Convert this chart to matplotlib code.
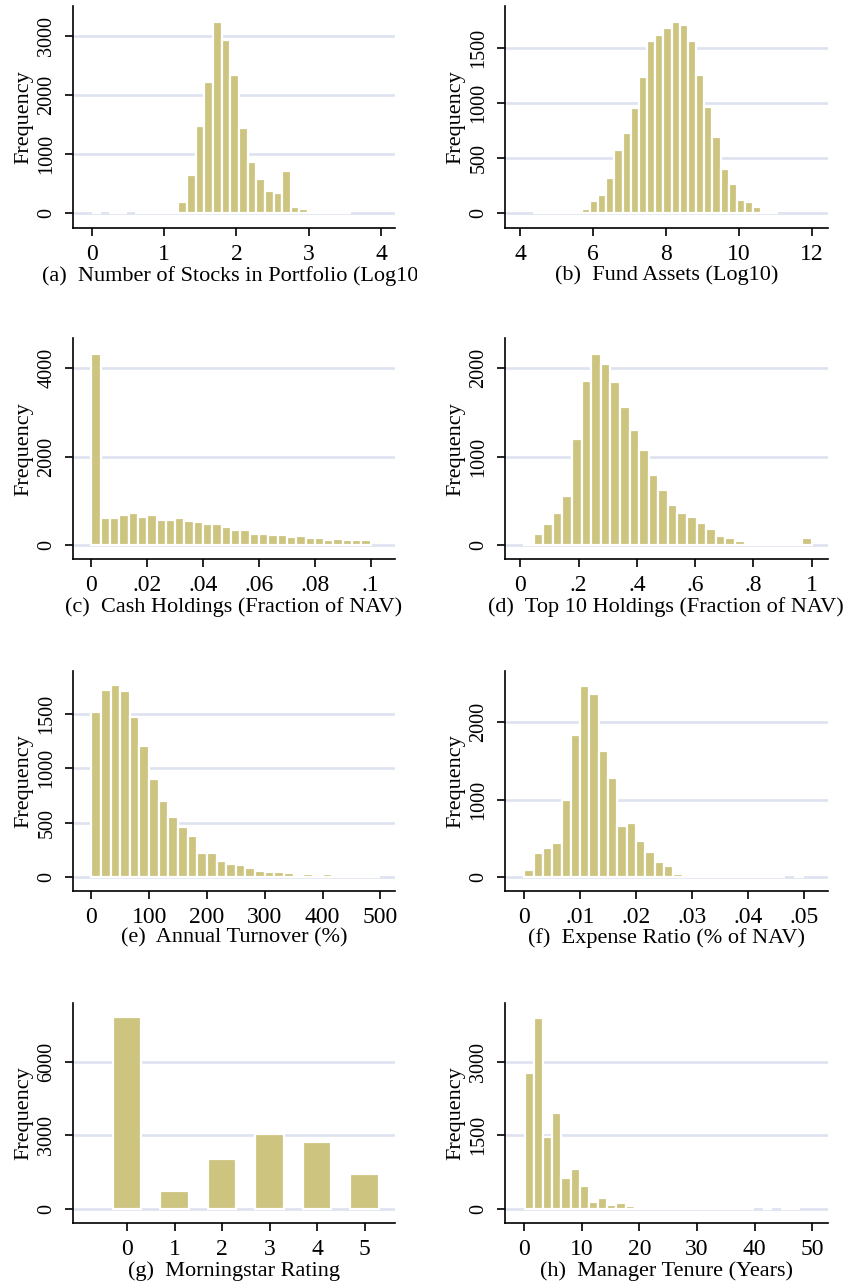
import numpy as np
import matplotlib.pyplot as plt
from matplotlib.transforms import Bbox, TransformedBbox

plt.rcParams['font.family'] = ['Liberation Serif', 'DejaVu Serif']

BAR = '#cdc47f'
GRID = '#dde2f0'

# (a) number of stocks in portfolio, log10 - 30 bins
stocks_range = (0.0, 3.59)
stocks_counts = [3, 0, 2, 2, 0, 3, 4, 6, 8, 25, 175, 644, 1469, 2209, 3232,
                 2932, 2333, 1435, 864, 576, 367, 339, 706, 102, 56, 5, 4, 20, 3, 2]

# (b) fund assets, log10
assets_range = (4.34, 11.07)
assets_counts = [1, 2, 3, 5, 8, 15, 36, 109, 163, 318, 572, 726, 953, 1231, 1557,
                 1618, 1681, 1733, 1705, 1563, 1252, 965, 686, 402, 266, 121, 97, 54, 6, 2]

# (c) cash holdings
cash_range = (0.0, 0.1)
cash_counts = [4317, 619, 604, 672, 717, 634, 679, 566, 566, 604, 536, 521, 483, 468, 408,
               340, 340, 242, 242, 219, 219, 181, 196, 151, 166, 113, 128, 113, 113, 113]

# (d) top 10 holdings
top10_range = (0.013, 1.0)
top10_counts = [26, 121, 234, 358, 558, 1200, 1860, 2162, 2049, 1845, 1562, 1306, 1075, 789, 623,
                457, 358, 313, 245, 181, 106, 75, 42, 23, 23, 6, 4, 5, 23, 75]

# (e) annual turnover
turnover_range = (0.0, 500.0)
turnover_counts = [1522, 1716, 1768, 1709, 1476, 1208, 904, 701, 553, 458, 378, 224, 224, 148, 120,
                   111, 80, 55, 49, 49, 37, 18, 25, 18, 25, 5, 4, 3, 2, 2]

# (f) expense ratio
expense_range = (0.0, 0.0499)
expense_counts = [95, 314, 370, 443, 1002, 1841, 2473, 2370, 1626, 1282, 662, 705, 460, 327, 194,
                  142, 43, 8, 5, 4, 3, 3, 2, 2, 2, 1, 1, 1, 0, 2]

# (g) morningstar rating (discrete)
ratings = [0, 1, 2, 3, 4, 5]
rating_counts = [7830, 724, 2036, 3048, 2733, 1408]

# (h) manager tenure
tenure_range = (0.08, 47.81)
tenure_counts = [2762, 3898, 1469, 1959, 619, 816, 456, 143, 218, 75, 109, 54, 12, 9, 7,
                 5, 4, 3, 3, 2, 2, 2, 1, 1, 1, 0, 1, 0, 1, 1]

W, H = 852, 1287
fig = plt.figure(figsize=(W / 100, H / 100), dpi=100)

cols = [(73, 322), (505, 322.7)]
rows = [(6, 228), (338.3, 559.3), (670.7, 890.7), (1002.7, 1223.3)]


def make_ax(r, c):
    left, width = cols[c]
    top, bottom = rows[r]
    return fig.add_axes([left / W, 1 - bottom / H, width / W, (bottom - top) / H])


def style(ax, xticks, xlabels, yticks, xlim, ylim, title):
    ax.set_xlim(*xlim)
    ax.set_ylim(*ylim)
    ax.spines['top'].set_visible(False)
    ax.spines['right'].set_visible(False)
    for s in ('left', 'bottom'):
        ax.spines[s].set_linewidth(1.2)
    ax.set_axisbelow(True)
    ax.yaxis.grid(True, color=GRID, lw=1.9)
    ax.set_xticks(xticks)
    ax.set_xticklabels(xlabels, fontsize=17)
    ax.set_yticks(yticks)
    ax.set_yticklabels([str(v) for v in yticks], fontsize=14.5, rotation=90, va='center')
    ax.tick_params(axis='x', length=6, width=1.2, pad=5.5)
    ax.tick_params(axis='y', length=6, width=1.2, pad=6)
    ax.set_ylabel('Frequency', fontsize=16)
    ax.yaxis.set_label_coords(-0.123, 0.5)
    ax.set_xlabel(title, fontsize=16)
    ax.xaxis.set_label_coords(0.5, -0.17)
    return ax.xaxis.label


def hist(ax, rng, counts):
    counts = np.array(counts, dtype=float)
    edges = np.linspace(rng[0], rng[1], len(counts) + 1)
    w = edges[1] - edges[0]
    keep = counts > 0
    ax.bar(edges[:-1][keep], counts[keep], width=w, align='edge',
           color=BAR, edgecolor='white', linewidth=1.6)


ax = make_ax(0, 0)
hist(ax, stocks_range, stocks_counts)
lab = style(ax, [0, 1, 2, 3, 4], ['0', '1', '2', '3', '4'], [0, 1000, 2000, 3000],
            (-0.263, 4.194), (-259, 3503), '(a)  Number of Stocks in Portfolio (Log10)')
lab.set_clip_box(TransformedBbox(Bbox([[0, 0], [417 / W, 1]]), fig.transFigure))
lab.set_clip_on(True)

ax = make_ax(0, 1)
hist(ax, assets_range, assets_counts)
style(ax, [4, 6, 8, 10, 12], ['4', '6', '8', '10', '12'], [0, 500, 1000, 1500],
      (3.58, 12.44), (-136, 1878), '(b)  Fund Assets (Log10)')

ax = make_ax(1, 0)
hist(ax, cash_range, cash_counts)
style(ax, [0, .02, .04, .06, .08, .1], ['0', '.02', '.04', '.06', '.08', '.1'], [0, 2000, 4000],
      (-0.00656, 0.1087), (-324, 4680), '(c)  Cash Holdings (Fraction of NAV)')

ax = make_ax(1, 1)
hist(ax, top10_range, top10_counts)
style(ax, [0, .2, .4, .6, .8, 1], ['0', '.2', '.4', '.6', '.8', '1'], [0, 1000, 2000],
      (-0.0526, 1.055), (-162, 2341), '(d)  Top 10 Holdings (Fraction of NAV)')

ax = make_ax(2, 0)
hist(ax, turnover_range, turnover_counts)
style(ax, [0, 100, 200, 300, 400, 500], ['0', '100', '200', '300', '400', '500'],
      [0, 500, 1000, 1500], (-31.7, 525.4), (-126, 1898), '(e)  Annual Turnover (%)')

ax = make_ax(2, 1)
hist(ax, expense_range, expense_counts)
style(ax, [0, .01, .02, .03, .04, .05], ['0', '.01', '.02', '.03', '.04', '.05'], [0, 1000, 2000],
      (-0.00345, 0.0542), (-177, 2669), '(f)  Expense Ratio (% of NAV)')

ax = make_ax(3, 0)
ax.bar(ratings, rating_counts, width=0.6, color=BAR, edgecolor='white', linewidth=1.6)
style(ax, ratings, [str(r) for r in ratings], [0, 3000, 6000],
      (-1.136, 5.637), (-600, 8417), '(g)  Morningstar Rating')

ax = make_ax(3, 1)
hist(ax, tenure_range, tenure_counts)
style(ax, [0, 10, 20, 30, 40, 50], ['0', '10', '20', '30', '40', '50'], [0, 1500, 3000],
      (-3.36, 52.7), (-296, 4203), '(h)  Manager Tenure (Years)')

fig.savefig('out.png', dpi=100, facecolor='white')
